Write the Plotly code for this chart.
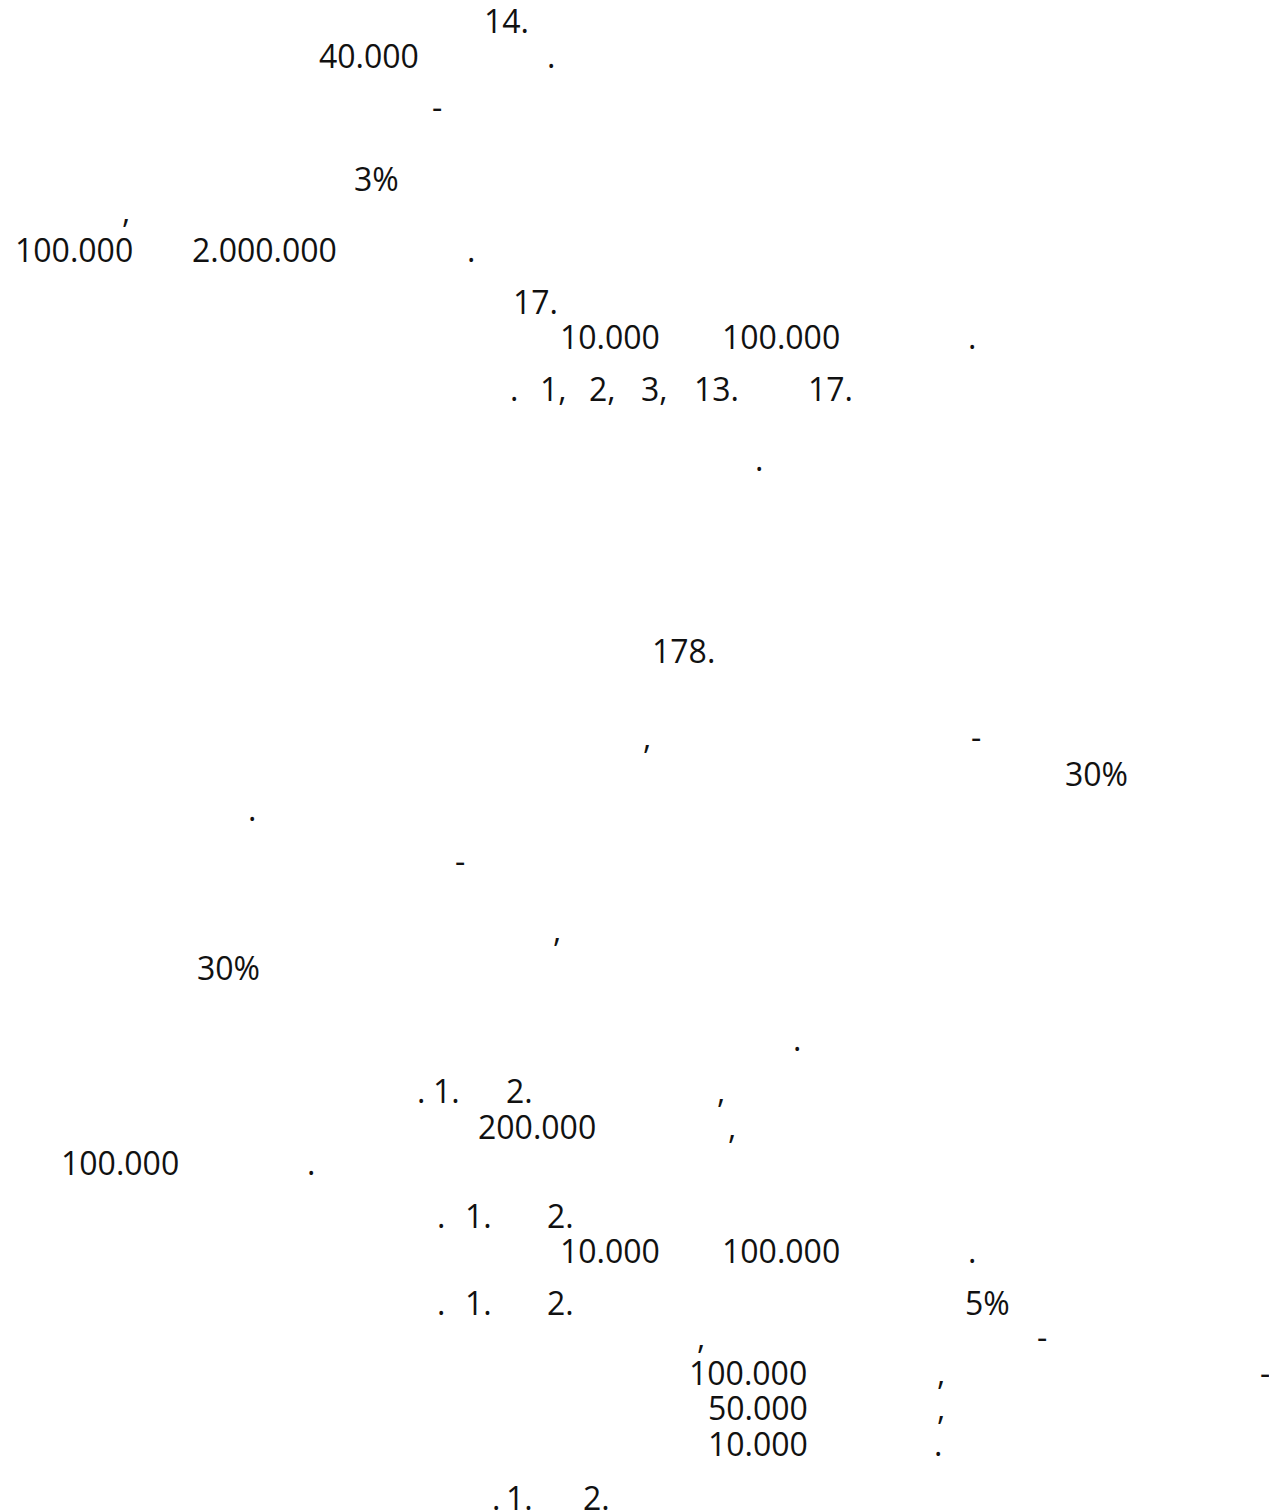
import plotly.graph_objects as go

# Visible fragments of the page (text, left x in px, row centre y in px)
texts = [
    "14.",
    "40.000", ".",
    "-",
    "3%",
    ",",
    "100.000", "2.000.000", ".",
    "17.",
    "10.000", "100.000", ".",
    ".", "1,", "2,", "3,", "13.", "17.",
    ".",
    "178.",
    ",", "-",
    "30%",
    ".",
    "-",
    ",",
    "30%",
    ".",
    ".", "1.", "2.", ",",
    "200.000", ",",
    "100.000", ".",
    ".", "1.", "2.",
    "10.000", "100.000", ".",
    ".", "1.", "2.", "5%",
    ",", "-",
    "100.000", ",", "-",
    "50.000", ",",
    "10.000", ".",
    ".", "1.", "2.",
]

text_x = [
    482,
    317, 545,
    430,
    352,
    120,
    13, 190, 465,
    511,
    558, 720, 966,
    508, 538, 587, 639, 692, 806,
    753,
    650,
    641, 969,
    1063,
    246,
    453,
    551,
    195,
    791,
    415, 431, 504, 715,
    476, 726,
    59, 305,
    435, 463, 545,
    558, 720, 966,
    435, 463, 545, 963,
    695, 1035,
    687, 935, 1258,
    706, 935,
    706, 932,
    490, 504, 581,
]

text_y = [
    20,
    55, 55,
    106,
    178,
    210,
    249, 249, 249,
    301,
    336, 336, 336,
    388, 388, 388, 388, 388, 388,
    458,
    650,
    736, 736,
    773,
    808,
    860,
    929,
    967,
    1038,
    1090, 1090, 1090, 1090,
    1126, 1126,
    1162, 1162,
    1215, 1215, 1215,
    1250, 1250, 1250,
    1302, 1302, 1302, 1302,
    1336, 1336,
    1372, 1372, 1372,
    1407, 1407,
    1443, 1443,
    1497, 1497, 1497,
]

W, H = 1269, 1512
FONT = dict(family="Open Sans, Noto Sans, sans-serif", size=32, color="#111111")

fig = go.Figure()
fig.add_trace(go.Scatter(x=[0, W], y=[0, H], mode="markers",
                         marker=dict(opacity=0), hoverinfo="skip", showlegend=False))

for t, x, y in zip(texts, text_x, text_y):
    fig.add_annotation(x=x, y=y, xref="x", yref="y", text=t, showarrow=False,
                       xanchor="left", yanchor="middle", font=FONT)

fig.update_layout(
    width=W, height=H,
    margin=dict(l=0, r=0, t=0, b=0),
    paper_bgcolor="white", plot_bgcolor="white",
    xaxis=dict(range=[0, W], visible=False, fixedrange=True),
    yaxis=dict(range=[H, 0], visible=False, fixedrange=True),
    showlegend=False,
)

fig.write_html("out.html", config={"displayModeBar": False},
               post_script="document.body.style.margin='0';document.documentElement.style.overflow='hidden';")
